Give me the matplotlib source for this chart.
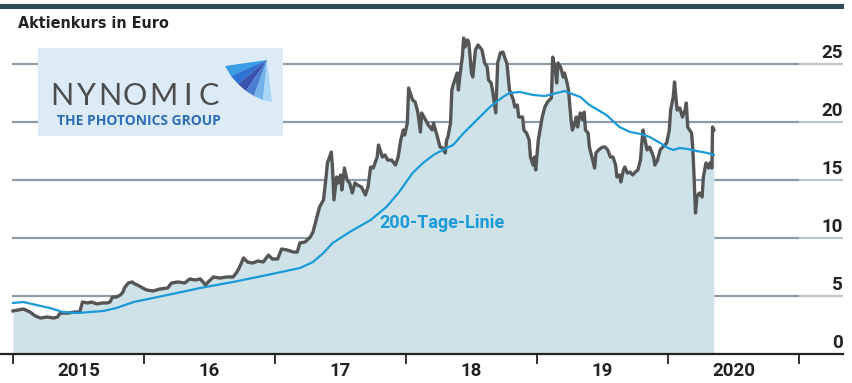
import matplotlib
matplotlib.use('Agg')
import matplotlib.pyplot as plt
from matplotlib.patches import Rectangle, Polygon

# ---------------- data ----------------
price_t = [2015.00, 2015.08, 2015.13, 2015.17, 2015.21, 2015.26, 2015.31, 2015.34, 2015.36, 2015.42,
           2015.47, 2015.51, 2015.53, 2015.57, 2015.60, 2015.64, 2015.68, 2015.72, 2015.74, 2015.76,
           2015.79, 2015.82, 2015.84, 2015.85, 2015.88, 2015.91, 2015.93, 2015.95, 2015.99, 2016.02,
           2016.07, 2016.12, 2016.18, 2016.21, 2016.26, 2016.31, 2016.35, 2016.39, 2016.43, 2016.47,
           2016.49, 2016.53, 2016.58, 2016.63, 2016.68, 2016.71, 2016.73, 2016.76, 2016.79, 2016.83,
           2016.87, 2016.91, 2016.95, 2016.98, 2017.02, 2017.05, 2017.09, 2017.14, 2017.17, 2017.19,
           2017.23, 2017.27, 2017.29, 2017.32, 2017.34, 2017.37, 2017.39, 2017.40, 2017.43, 2017.44,
           2017.45, 2017.47, 2017.48, 2017.50, 2017.51, 2017.53, 2017.55, 2017.57, 2017.59, 2017.61,
           2017.63, 2017.66, 2017.69, 2017.71, 2017.73, 2017.75, 2017.78, 2017.79, 2017.82, 2017.84,
           2017.86, 2017.89, 2017.92, 2017.94, 2017.96, 2017.98, 2017.99, 2018.01, 2018.02, 2018.05,
           2018.07, 2018.09, 2018.11, 2018.12, 2018.15, 2018.17, 2018.20, 2018.21, 2018.24, 2018.26,
           2018.28, 2018.30, 2018.31, 2018.32, 2018.34, 2018.35, 2018.36, 2018.39, 2018.40, 2018.41,
           2018.43, 2018.44, 2018.45, 2018.47, 2018.48, 2018.50, 2018.51, 2018.53, 2018.55, 2018.58,
           2018.60, 2018.62, 2018.63, 2018.65, 2018.66, 2018.685, 2018.69, 2018.70, 2018.72, 2018.74,
           2018.76, 2018.77, 2018.79, 2018.82, 2018.83, 2018.85, 2018.86, 2018.89, 2018.90, 2018.92,
           2018.94, 2018.95, 2018.97, 2018.98, 2018.99, 2019.01, 2019.04, 2019.06, 2019.08, 2019.11,
           2019.12, 2019.14, 2019.15, 2019.16, 2019.18, 2019.20, 2019.21, 2019.23, 2019.24, 2019.26,
           2019.27, 2019.29, 2019.30, 2019.31, 2019.33, 2019.35, 2019.36, 2019.37, 2019.39, 2019.40,
           2019.43, 2019.44, 2019.45, 2019.47, 2019.50, 2019.52, 2019.54, 2019.56, 2019.58, 2019.60,
           2019.61, 2019.63, 2019.64, 2019.66, 2019.67, 2019.69, 2019.71, 2019.73, 2019.75, 2019.77,
           2019.79, 2019.80, 2019.81, 2019.82, 2019.84, 2019.86, 2019.89, 2019.90, 2019.92, 2019.94,
           2019.96, 2019.99, 2020.01, 2020.02, 2020.04, 2020.05, 2020.06, 2020.07, 2020.09, 2020.11,
           2020.13, 2020.14, 2020.15, 2020.18, 2020.19, 2020.20, 2020.21, 2020.22, 2020.24, 2020.26,
           2020.27, 2020.29, 2020.31, 2020.32, 2020.335, 2020.34, 2020.35]
price_v = [3.71, 3.88, 3.62, 3.28, 3.10, 3.19, 3.10, 3.19, 3.53, 3.53,
           3.62, 3.62, 4.48, 4.40, 4.48, 4.31, 4.40, 4.40, 4.48, 4.91,
           4.91, 5.09, 5.34, 5.69, 6.12, 6.21, 6.03, 5.95, 5.69, 5.52,
           5.43, 5.60, 5.69, 6.12, 6.21, 6.12, 6.47, 6.38, 6.47, 5.95,
           6.21, 6.64, 6.55, 6.64, 6.64, 7.07, 7.50, 8.28, 7.93, 7.84,
           8.02, 7.93, 8.53, 8.19, 8.19, 9.05, 8.97, 8.79, 8.79, 9.57,
           9.66, 10.09, 10.52, 11.81, 12.67, 13.28, 15.26, 16.47, 17.41, 15.86,
           13.28, 15.26, 14.74, 15.43, 14.14, 16.03, 15.00, 14.74, 13.88, 14.74,
           14.57, 14.40, 13.71, 14.40, 16.12, 16.03, 16.98, 18.02, 16.98, 17.16,
           16.72, 16.72, 16.29, 16.98, 18.45, 19.31, 18.88, 19.91, 22.93, 21.90,
           21.72, 20.86, 19.14, 20.78, 20.17, 19.74, 19.31, 19.91, 18.71, 17.84,
           17.76, 17.33, 18.45, 18.71, 19.91, 22.76, 23.19, 24.22, 22.76, 23.88,
           25.60, 27.24, 26.47, 27.07, 26.81, 24.22, 23.88, 26.21, 26.64, 26.21,
           25.09, 24.74, 23.62, 23.36, 22.76, 20.78, 22.16, 25.09, 25.95, 26.03,
           25.34, 25.09, 22.76, 21.90, 21.29, 21.47, 20.43, 20.43, 19.31, 19.05,
           18.45, 16.98, 16.29, 16.98, 15.86, 18.45, 20.43, 21.29, 21.72, 22.07,
           25.60, 24.48, 23.36, 25.09, 24.74, 23.88, 24.22, 23.36, 22.76, 20.17,
           19.31, 19.91, 20.43, 19.57, 20.78, 20.17, 20.86, 19.31, 19.05, 17.84,
           16.47, 16.03, 17.33, 17.59, 17.84, 17.84, 17.59, 16.98, 16.98, 16.29,
           15.26, 15.43, 14.83, 15.86, 16.12, 15.60, 15.69, 15.43, 15.69, 15.86,
           16.72, 18.19, 19.31, 18.71, 17.59, 17.84, 16.98, 16.29, 16.72, 17.59,
           17.84, 18.19, 19.31, 21.03, 22.16, 23.45, 22.16, 21.03, 21.21, 20.43,
           21.03, 21.64, 19.57, 19.05, 17.59, 15.00, 12.16, 13.53, 13.88, 13.53,
           15.26, 16.47, 16.03, 16.47, 16.03, 19.57, 19.31]

ma_t = [2015.00, 2015.08, 2015.18, 2015.28, 2015.38, 2015.49, 2015.59, 2015.69, 2015.79, 2015.92,
        2016.18, 2016.43, 2016.68, 2016.94, 2017.19, 2017.29, 2017.37, 2017.44, 2017.57, 2017.73,
        2017.85, 2017.95, 2018.05, 2018.13, 2018.21, 2018.28, 2018.36, 2018.44, 2018.54, 2018.64,
        2018.74, 2018.79, 2018.87, 2018.97, 2019.06, 2019.15, 2019.21, 2019.27, 2019.33, 2019.40,
        2019.53, 2019.63, 2019.71, 2019.79, 2019.86, 2019.94, 2020.00, 2020.04, 2020.09, 2020.15,
        2020.22, 2020.30, 2020.35]
ma_v = [4.40, 4.48, 4.22, 3.97, 3.62, 3.53, 3.62, 3.71, 3.97, 4.48,
        5.09, 5.69, 6.21, 6.81, 7.41, 7.93, 8.71, 9.57, 10.52, 11.55,
        12.67, 14.00, 15.60, 16.47, 17.16, 17.59, 18.02, 19.05, 20.17, 21.29,
        22.16, 22.50, 22.59, 22.33, 22.24, 22.50, 22.67, 22.41, 22.16, 21.47,
        20.60, 19.57, 19.14, 18.97, 18.71, 18.19, 17.76, 17.59, 17.76, 17.67,
        17.50, 17.33, 17.16]

year_ticks = [2015, 2016, 2017, 2018, 2019, 2020, 2021]
year_labels = ['2015', '16', '17', '18', '19', '2020']
y_ticks = [0, 5, 10, 15, 20, 25]
title = 'Aktienkurs in Euro'
ma_label = '200-Tage-Linie'
logo_name = 'NYNOMIC'
logo_sub = 'THE PHOTONICS GROUP'

# ---------------- style ----------------
NARROW = ['Roboto', 'DejaVu Sans']
DARK = '#222222'
GRID_DARK = '#8d9ba6'
GRID_LIGHT = '#bcc7cd'
FILL = '#cfe2e7'
PRICE_COL = '#555555'
MA_COL = '#1a9ad6'

W, H = 853, 383
fig = plt.figure(figsize=(W / 100, H / 100), dpi=100)


def px(x0, y0, x1, y1):
    return [x0 / W, 1 - y1 / H, (x1 - x0) / W, (y1 - y0) / H]


ax = fig.add_axes(px(0, 30, 843, 354))
x_left = 2015 - 13 / 131
x_right = 2015 + (843 - 13) / 131
ax.set_xlim(x_left, x_right)
ax.set_ylim(0, 324 / 11.6)
for s in ax.spines.values():
    s.set_visible(False)
ax.patch.set_alpha(0)

for v in y_ticks[1:]:
    ax.plot([2015 - 1 / 131, 2021], [v, v], color=GRID_DARK, lw=1.6, zorder=1, solid_capstyle='butt')
    ax.plot([2021, x_right], [v, v], color=GRID_LIGHT, lw=1.6, zorder=1, solid_capstyle='butt')

ax.fill_between(price_t, price_v, 0, color=FILL, lw=0, zorder=2)
ax.plot(price_t, price_v, color=PRICE_COL, lw=2.4, zorder=3, solid_joinstyle='round')
ax.plot(ma_t, ma_v, color=MA_COL, lw=1.6, zorder=4)
ax.axhline(0, color=DARK, lw=1.6, zorder=5, clip_on=False)

ax.set_yticks([])
ax.set_xticks(year_ticks)
ax.tick_params(axis='x', which='major', length=7, width=1.3, color=DARK,
               direction='out', labelbottom=False)
ax.set_xticks([y + 0.5 for y in year_ticks[:-1]], minor=True)
ax.set_xticklabels(year_labels, minor=True)
ax.tick_params(axis='x', which='minor', length=0, pad=6, labelsize=13.5, labelcolor=DARK)
for lab in ax.get_xticklabels(minor=True):
    lab.set_family(NARROW)
    lab.set_fontweight('bold')

for v in y_ticks:
    ax.text(x_right, v + 0.18, str(v), ha='right', va='bottom', fontsize=13.5,
            family=NARROW, fontweight='bold', color=DARK, zorder=6)

ax.text(2017.80, 10.86, ma_label, ha='left', va='baseline', fontsize=13,
        family=NARROW, fontweight='bold', color=MA_COL, zorder=6)

# ---------------- overlay (title, bar, logo) ----------------
oax = fig.add_axes([0, 0, 1, 1], zorder=10)
oax.set_xlim(0, W)
oax.set_ylim(H, 0)
oax.axis('off')
oax.patch.set_alpha(0)

oax.add_patch(Rectangle((0, 4), 844, 5, color='#2c4c59', lw=0))
oax.text(18, 28, title, ha='left', va='baseline', fontsize=11.5, family='DejaVu Sans',
         stretch='condensed', fontweight='bold', color=DARK)

oax.add_patch(Rectangle((38, 48), 245, 88, color='#dcebf6', lw=0))
letter_x = [62, 87, 110, 135, 163, 188, 209]
for ch, lx in zip(logo_name, letter_x):
    oax.text(lx, 105, ch, ha='center', va='baseline', fontsize=22, family=['Lato', 'DejaVu Sans'],
             color='#4d4d4d')
oax.text(138.5, 125, logo_sub, ha='center', va='baseline', fontsize=10,
         family=['Open Sans', 'DejaVu Sans'], fontweight='bold', color='#2e6db5')

apex = (267, 60)
arc = [(225, 66), (231, 76), (238, 84), (246, 91), (254, 96), (263, 100), (272, 102)]
wedge_cols = ['#3a9de6', '#2f72d2', '#3a52ad', '#4a7ed0', '#72b2ea', '#a9d7f3']
for i, c in enumerate(wedge_cols):
    oax.add_patch(Polygon([apex, arc[i], arc[i + 1]], closed=True, color=c, lw=0))

fig.savefig('out.png', dpi=100)
